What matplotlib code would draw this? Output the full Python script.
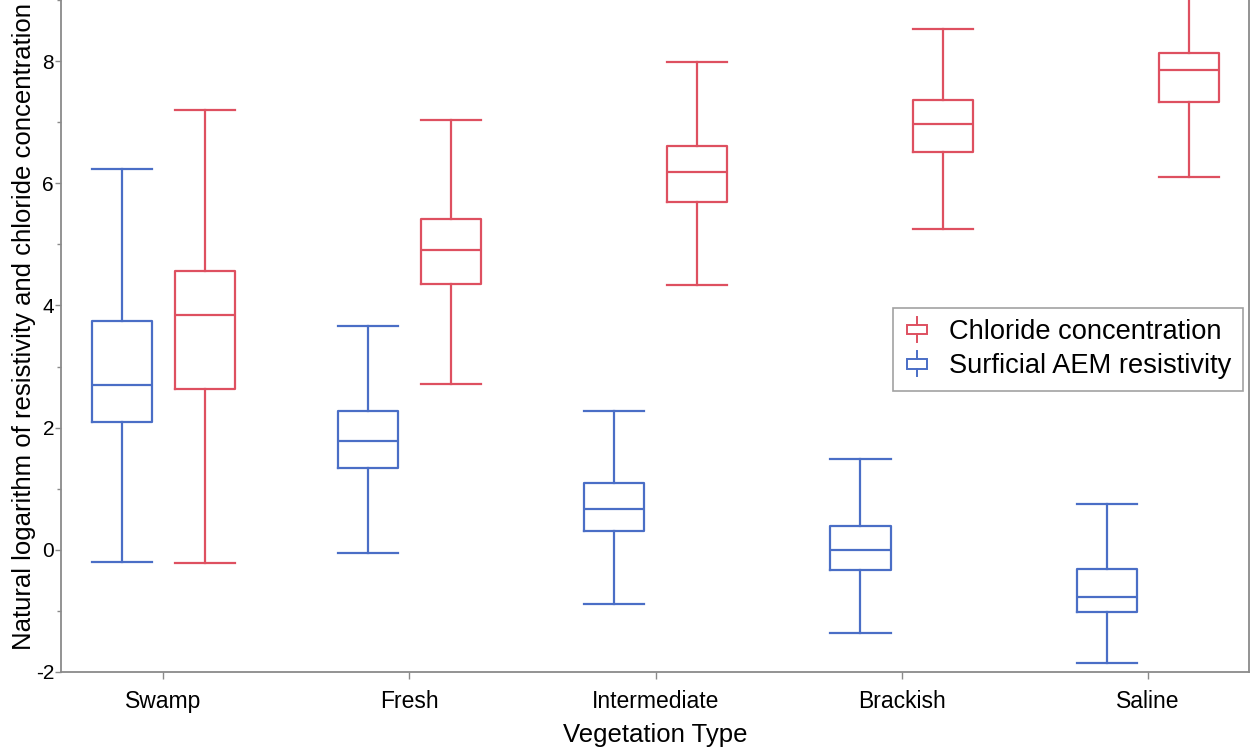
import matplotlib
matplotlib.use("Agg")
import matplotlib.pyplot as plt
from matplotlib.legend_handler import HandlerBase
from matplotlib.patches import Rectangle
from matplotlib.lines import Line2D
from matplotlib.ticker import MultipleLocator

plt.rcParams['font.family'] = ['Liberation Sans', 'DejaVu Sans']
plt.rcParams['axes.unicode_minus'] = False

categories = ['Swamp', 'Fresh', 'Intermediate', 'Brackish', 'Saline']

# Surficial AEM resistivity (ln)
res_low = [-0.20, -0.06, -0.89, -1.36, -1.85]
res_q1 = [2.10, 1.34, 0.30, -0.33, -1.02]
res_med = [2.70, 1.78, 0.66, 0.00, -0.77]
res_q3 = [3.74, 2.27, 1.09, 0.39, -0.31]
res_high = [6.23, 3.67, 2.28, 1.48, 0.75]

# Chloride concentration (ln)
cl_low = [-0.22, 2.72, 4.34, 5.25, 6.10]
cl_q1 = [2.64, 4.35, 5.70, 6.51, 7.33]
cl_med = [3.85, 4.91, 6.19, 6.97, 7.85]
cl_q3 = [4.56, 5.42, 6.61, 7.36, 8.13]
cl_high = [7.20, 7.03, 7.98, 8.52, 9.60]

RED = '#de5060'
BLUE = '#4a6ec6'
GREY = '#8a8a8a'


def make_stats(low, q1, med, q3, high):
    return [dict(whislo=a, q1=b, med=c, q3=d, whishi=e, fliers=[])
            for a, b, c, d, e in zip(low, q1, med, q3, high)]


fig = plt.figure(figsize=(12.51, 7.52), dpi=100)
ax = fig.add_axes([0.0488, 0.1064, 0.9496, 0.8936])

x = list(range(len(categories)))
off = 0.168
width = 0.244


def draw(stats, positions, color):
    lp = dict(color=color, linewidth=1.6)
    ax.bxp(stats, positions=positions, widths=width, showfliers=False,
           boxprops=lp, whiskerprops=lp, capprops=lp, medianprops=lp,
           capwidths=width, manage_ticks=False)


draw(make_stats(res_low, res_q1, res_med, res_q3, res_high), [i - off for i in x], BLUE)
draw(make_stats(cl_low, cl_q1, cl_med, cl_q3, cl_high), [i + off for i in x], RED)


class BoxHandler(HandlerBase):
    def __init__(self, color):
        super().__init__()
        self.color = color

    def create_artists(self, legend, orig_handle, xdescent, ydescent,
                       width, height, fontsize, trans):
        cx = width * 0.5 - xdescent
        bw = width * 0.8
        bh = height * 0.5
        y0 = (height - bh) / 2 - ydescent
        rect = Rectangle((cx - bw / 2, y0), bw, bh, fill=False,
                         edgecolor=self.color, linewidth=1.4, transform=trans)
        top = Line2D([cx, cx], [y0 + bh, y0 + bh + height * 0.4],
                     color=self.color, linewidth=1.4, transform=trans)
        bot = Line2D([cx, cx], [y0 - height * 0.4, y0],
                     color=self.color, linewidth=1.4, transform=trans)
        return [rect, top, bot]


h_red = Line2D([], [], color=RED)
h_blue = Line2D([], [], color=BLUE)
leg = ax.legend([h_red, h_blue], ['Chloride concentration', 'Surficial AEM resistivity'],
                handler_map={h_red: BoxHandler(RED), h_blue: BoxHandler(BLUE)},
                loc='upper right', bbox_to_anchor=(0.995, 0.542),
                fontsize=19.6, frameon=True, fancybox=False, handlelength=0.9,
                handletextpad=0.75, borderpad=0.42, labelspacing=0.3,
                borderaxespad=0)
leg.get_frame().set_edgecolor(GREY)
leg.get_frame().set_linewidth(1.2)

ax.set_xlim(-0.415, 4.41)
ax.set_ylim(-2, 9)
ax.set_xticks(x)
ax.set_xticklabels(categories, fontsize=16.5)
ax.yaxis.set_major_locator(MultipleLocator(2))
ax.yaxis.set_minor_locator(MultipleLocator(1))
ax.tick_params(axis='y', labelsize=15, color=GREY, length=4, width=1, pad=1)
ax.tick_params(axis='y', which='minor', color=GREY, length=3, width=1)
ax.tick_params(axis='x', color=GREY, length=5, width=1, pad=8)

for side in ['left', 'bottom', 'right']:
    ax.spines[side].set_color(GREY)
    ax.spines[side].set_linewidth(1.3)
ax.spines['top'].set_visible(False)

ax.set_xlabel('Vegetation Type', fontsize=18.5, labelpad=7)
ax.set_ylabel('Natural logarithm of resistivity and chloride concentration', fontsize=18.5)
ax.yaxis.set_label_coords(-0.021, 0.514)

fig.savefig('out.png', dpi=100)
